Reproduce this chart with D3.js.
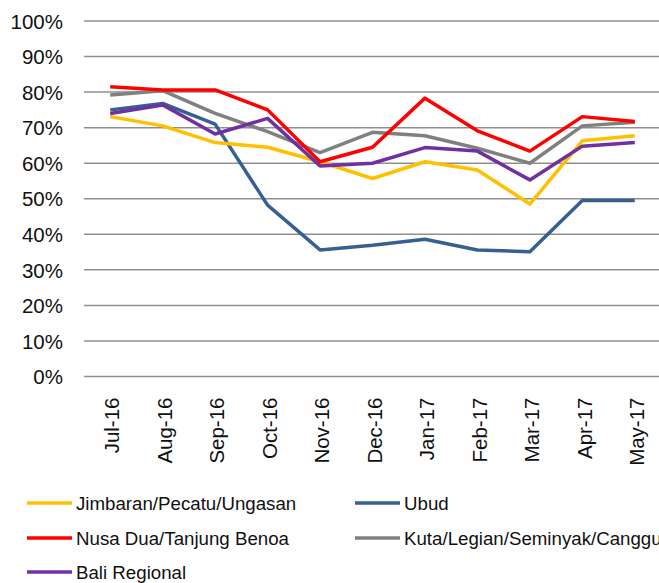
<!DOCTYPE html>
<html><head><meta charset="utf-8">
<script src="https://cdn.jsdelivr.net/npm/d3@7"></script>
<style>html,body{margin:0;padding:0;background:#fff;overflow:hidden}</style>
</head><body>
<svg id="chart" width="659" height="583"></svg>
<script>
const months = ["Jul-16","Aug-16","Sep-16","Oct-16","Nov-16","Dec-16","Jan-17","Feb-17","Mar-17","Apr-17","May-17"];
const yTicks = [0,10,20,30,40,50,60,70,80,90,100];
const seriesNames = ["Jimbaran/Pecatu/Ungasan","Ubud","Nusa Dua/Tanjung Benoa","Kuta/Legian/Seminyak/Canggu","Bali Regional"];
const jimbaran = [73.1,70.5,65.8,64.5,60.4,55.7,60.4,58.1,48.5,66.3,67.7];
const ubud     = [75.0,76.8,71.0,48.2,35.6,36.9,38.6,35.6,35.1,49.5,49.5];
const nusaDua  = [81.5,80.6,80.6,75.0,60.4,64.5,78.3,69.1,63.4,73.1,71.7];
const kuta     = [79.2,80.4,74.0,68.9,63.0,68.7,67.7,64.2,60.0,70.5,71.5];
const bali     = [74.0,76.4,68.2,72.6,59.2,60.0,64.4,63.4,55.3,64.8,65.8];
const colors = ["#FFC000","#376092","#FF0000","#808080","#7030A0"];

(function(){
const series = [jimbaran, ubud, nusaDua, kuta, bali];
const drawOrder = [1,0,3,2,4];

const svg = d3.select("#chart");
const pl = 84, pr = 661, pt = 21, pb = 376.5;
const x = d3.scaleBand().domain(months).range([pl, pr]).padding(0);
const y = d3.scaleLinear().domain([0,100]).range([pb, pt]);
const font = "'Liberation Sans', Arial, sans-serif";

svg.append("g").selectAll("line").data(yTicks).join("line")
  .attr("x1", pl).attr("x2", pr)
  .attr("y1", d => y(d)).attr("y2", d => y(d))
  .attr("stroke", "#8f8f8f").attr("stroke-width", 1.5);

const yAxis = d3.axisLeft(y).tickValues(yTicks).tickFormat(d => d + "%").tickSize(0).tickPadding(0);
const ga = svg.append("g").attr("transform", `translate(63,0)`).call(yAxis);
ga.select(".domain").remove();
ga.selectAll("text").attr("font-family", font).attr("font-size", 20.5).attr("fill", "#111").attr("dy", "0.35em");

const xAxis = d3.axisBottom(x).tickSize(0).tickPadding(0);
const gx = svg.append("g").attr("transform", `translate(0,${pb})`).call(xAxis);
gx.select(".domain").remove();
gx.selectAll("text")
  .attr("font-family", font).attr("font-size", 20.5).attr("fill", "#111")
  .attr("text-anchor", "end")
  .attr("transform", "translate(2,21) rotate(-90)")
  .attr("x", 0).attr("y", 0).attr("dy", "0.35em");

const line = d3.line().x((d,i) => x(months[i]) + x.bandwidth()/2).y(d => y(d));
drawOrder.forEach(k => {
  svg.append("path").datum(series[k])
    .attr("d", line).attr("fill", "none")
    .attr("stroke", colors[k]).attr("stroke-width", 3.5)
    .attr("stroke-linejoin", "round");
});

const legPos = [[27,503],[355,503],[27,538],[355,538],[27,572]];
const lg = svg.append("g");
seriesNames.forEach((name, k) => {
  const [lx, ly] = legPos[k];
  lg.append("line").attr("x1", lx).attr("x2", lx+45).attr("y1", ly).attr("y2", ly)
    .attr("stroke", colors[k]).attr("stroke-width", 3.5);
  lg.append("text").attr("x", lx+49).attr("y", ly).attr("dy", "0.35em")
    .attr("font-family", font).attr("font-size", 18.7).attr("fill", "#111")
    .text(name);
});
})();
</script>
</body></html>
